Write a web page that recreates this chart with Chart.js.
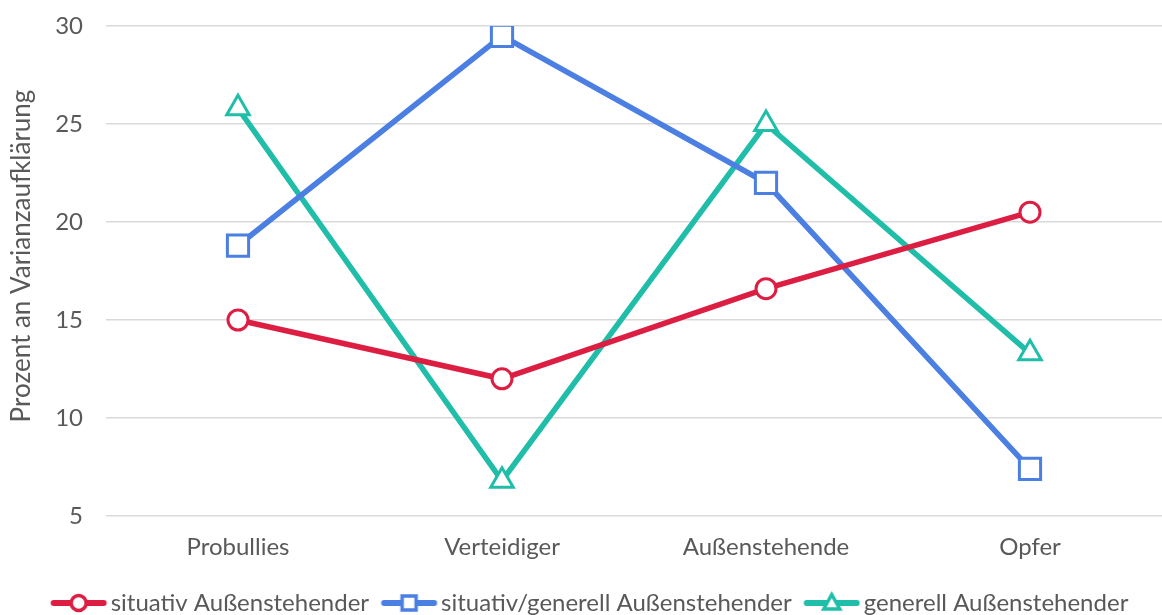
<!DOCTYPE html>
<html>
<head>
<meta charset="utf-8">
<script src="https://cdn.jsdelivr.net/npm/chart.js@4/dist/chart.umd.min.js"></script>
<style>
  html, body { margin: 0; padding: 0; background: #fff; }
  #wrap { width: 1162px; height: 615px; position: relative; }
</style>
</head>
<body>
<div id="wrap"><canvas id="chart"></canvas></div>
<script>
const categories = ["Probullies", "Verteidiger", "Außenstehende", "Opfer"];
const seriesNames = ["situativ Außenstehender", "situativ/generell Außenstehender", "generell Außenstehender"];
const situativ = [15.0, 12.0, 16.6, 20.5];
const situativGenerell = [18.8, 29.5, 22.0, 7.4];
const generell = [25.8, 6.8, 25.0, 13.3];
const yTicks = [5, 10, 15, 20, 25, 30];
const yTitle = "Prozent an Varianzaufklärung";

const COLORS = { red: "#DC1E42", blue: "#4B7FE2", teal: "#20BEA9" };
const FONT = "Lato, 'Open Sans', sans-serif";
const TEXT = "#595959";

// legend icon: line + marker, shifted inside a wide transparent canvas
function legendIcon(color, style) {
  const c = document.createElement("canvas");
  c.width = 140;
  c.height = 26;
  const ctx = c.getContext("2d");
  const x0 = 51.5, x1 = 107.5, cx = 79.5, cy = 13;
  ctx.strokeStyle = color;
  ctx.lineCap = "round";
  ctx.lineWidth = 6;
  ctx.beginPath();
  ctx.moveTo(x0 + 3, cy);
  ctx.lineTo(x1 - 3, cy);
  ctx.stroke();
  ctx.fillStyle = "#fff";
  ctx.lineWidth = 3.5;
  ctx.beginPath();
  if (style === "circle") {
    ctx.arc(cx, cy, 7.5, 0, Math.PI * 2);
  } else if (style === "rect") {
    ctx.rect(cx - 7, cy - 7, 14, 14);
  } else {
    ctx.moveTo(cx, cy - 8.5);
    ctx.lineTo(cx + 8, cy + 6);
    ctx.lineTo(cx - 8, cy + 6);
    ctx.closePath();
  }
  ctx.fill();
  ctx.stroke();
  return c;
}

function makeDataset(label, data, color, style, radius) {
  return {
    label,
    data,
    borderColor: color,
    backgroundColor: color,
    borderWidth: 5.5,
    pointStyle: style,
    pointRadius: radius,
    pointHoverRadius: radius,
    pointBorderWidth: 3,
    pointBackgroundColor: "#fff",
    pointBorderColor: color,
    legendIcon: legendIcon(color, style),
    tension: 0
  };
}

// y title drawn a bit above the plot centre, like the original
const yTitlePlugin = {
  id: "yTitle",
  afterDraw(chart) {
    const ctx = chart.ctx;
    ctx.save();
    ctx.translate(22, 256);
    ctx.rotate(-Math.PI / 2);
    ctx.font = `26px ${FONT}`;
    ctx.fillStyle = TEXT;
    ctx.textAlign = "center";
    ctx.textBaseline = "middle";
    ctx.fillText(yTitle, 0, 0);
    ctx.restore();
  }
};

new Chart(document.getElementById("chart"), {
  type: "line",
  data: {
    labels: categories,
    datasets: [
      makeDataset(seriesNames[0], situativ, COLORS.red, "circle", 10),
      makeDataset(seriesNames[1], situativGenerell, COLORS.blue, "rect", 15),
      makeDataset(seriesNames[2], generell, COLORS.teal, "triangle", 13)
    ]
  },
  plugins: [yTitlePlugin],
  options: {
    responsive: true,
    maintainAspectRatio: false,
    animation: false,
    layout: { autoPadding: false, padding: { top: 26, right: -6, left: 0, bottom: -10 } },
    plugins: {
      tooltip: { enabled: false },
      legend: {
        position: "bottom",
        labels: {
          usePointStyle: true,
          pointStyleWidth: 59,
          padding: 1,
          color: TEXT,
          font: { family: FONT, size: 24 },
          generateLabels(chart) {
            return chart.data.datasets.map((ds, i) => ({
              text: ds.label,
              fillStyle: ds.borderColor,
              strokeStyle: ds.borderColor,
              lineWidth: 0,
              pointStyle: ds.legendIcon,
              hidden: false,
              datasetIndex: i,
              fontColor: TEXT
            }));
          }
        }
      }
    },
    scales: {
      x: {
        offset: true,
        grid: { display: false, drawTicks: false },
        border: { display: false },
        ticks: { color: TEXT, padding: 17, font: { family: FONT, size: 24 } },
        afterFit(axis) {
          axis.height = 74;
          axis.paddingLeft = 0;
          axis.paddingRight = 0;
        }
      },
      y: {
        min: 5,
        max: 30,
        afterBuildTicks(axis) {
          axis.ticks = yTicks.map((v) => ({ value: v }));
        },
        grid: { color: "#d9d9d9", lineWidth: 1.5, drawTicks: false },
        border: { display: false },
        ticks: { color: TEXT, padding: 23, font: { family: FONT, size: 24 } },
        afterFit(axis) {
          axis.width = 106;
          axis.paddingTop = 0;
          axis.paddingBottom = 0;
        }
      }
    }
  }
});
</script>
</body>
</html>
